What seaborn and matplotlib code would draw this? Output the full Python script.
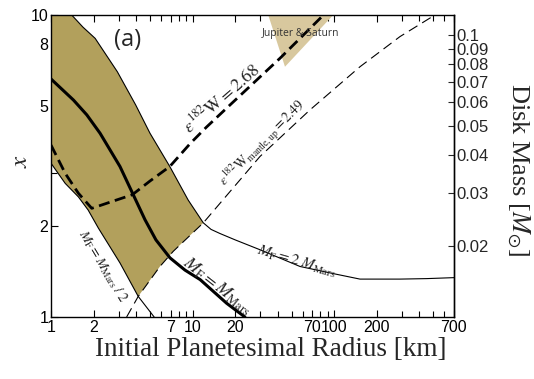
import numpy as np
import pandas as pd
import seaborn as sns
import matplotlib.pyplot as plt
from matplotlib.ticker import NullFormatter, NullLocator

# planetesimal radius [km] vs x
mf2_r = [1.40, 1.68, 2.05, 2.94, 3.96, 5.0, 6.9, 9.3, 11.9, 13.5, 15.6, 20.0, 29.9, 57.3, 100, 152, 291, 450, 700]
mf2_x = [10.0, 9.12, 8.37, 6.49, 5.04, 4.06, 3.15, 2.44, 2.05, 1.95, 1.89, 1.80, 1.67, 1.47, 1.39, 1.335, 1.335, 1.34, 1.35]

mf1_r = [1.0, 1.44, 1.79, 2.22, 3.07, 3.81, 4.61, 5.51, 6.92, 8.83, 11.3, 17.4, 23.4]
mf1_x = [6.14, 5.23, 4.67, 4.06, 3.15, 2.54, 2.10, 1.80, 1.57, 1.43, 1.33, 1.11, 1.0]

mfhalf_r = [1.0, 1.26, 1.56, 1.83, 2.16, 3.07, 4.13, 5.35]
mfhalf_x = [3.23, 2.77, 2.50, 2.26, 1.97, 1.51, 1.17, 1.0]

w268_r = [1.0, 1.26, 1.56, 1.94, 2.68, 3.75, 5.0, 6.9, 9.6, 12.5, 18.4, 41.4, 84]
w268_x = [3.71, 2.99, 2.57, 2.29, 2.41, 2.54, 2.82, 3.15, 3.75, 4.25, 5.04, 7.19, 10.0]

w249_r = [3.42, 4.13, 5.88, 7.3, 11.9, 29.9, 67.4, 152, 291, 514]
w249_x = [1.0, 1.17, 1.47, 1.65, 2.05, 3.40, 4.85, 6.74, 8.48, 10.0]

js_r = [34.2, 98.4, 44.9]
js_x = [10.0, 10.0, 6.74]

disk_ticks = [0.02, 0.03, 0.04, 0.05, 0.06, 0.07, 0.08, 0.09, 0.1]
disk_labels = ['0.02', '0.03', '0.04', '0.05', '0.06', '0.07', '0.08', '0.09', '0.1']
disk_per_x = 0.01165

x_major = [1, 2, 7, 10, 20, 70, 100, 200, 700]
x_minor = [3, 4, 5, 6, 8, 9, 30, 40, 50, 60, 80, 90, 300, 400, 500, 600]
y_major = [1, 2, 5, 8, 10]
y_minor = [3, 4, 6, 7, 9]

sns.set_style('ticks')
plt.rcParams['font.family'] = ['Liberation Serif', 'DejaVu Serif']
plt.rcParams['mathtext.fontset'] = 'stix'
sans = ['Liberation Sans', 'DejaVu Sans']

fig, ax = plt.subplots(figsize=(5.34, 3.79), dpi=100)
fig.subplots_adjust(left=0.0955, right=0.850, bottom=0.1636, top=0.9604)
ax.set_xscale('log')
ax.set_yscale('log')

# shaded allowed region: MF=2MMars edge, mantle dashed edge, MF=MMars/2 edge
i_end = mf2_r.index(11.9)
poly_r = [1.0] + mf2_r[:i_end + 1] + w249_r[1:4][::-1] + mfhalf_r[:7][::-1]
poly_x = [10.0] + mf2_x[:i_end + 1] + w249_x[1:4][::-1] + mfhalf_x[:7][::-1]
ax.fill(poly_r, poly_x, color='#b2a05c', lw=0, zorder=1)
ax.fill(js_r, js_x, color='#d8c89e', lw=0, zorder=1)

sns.lineplot(x=mf2_r, y=mf2_x, sort=False, estimator=None, color='black', lw=0.8, ax=ax)
sns.lineplot(x=mf1_r, y=mf1_x, sort=False, estimator=None, color='black', lw=2.2, ax=ax)
sns.lineplot(x=mfhalf_r, y=mfhalf_x, sort=False, estimator=None, color='black', lw=0.8, ax=ax)
sns.lineplot(x=w268_r, y=w268_x, sort=False, estimator=None, color='black', lw=2.0,
             linestyle=(0, (4, 2)), ax=ax)
sns.lineplot(x=w249_r, y=w249_x, sort=False, estimator=None, color='black', lw=0.8,
             linestyle=(0, (9, 5)), ax=ax)

ax.set_xlim(1, 700)
ax.set_ylim(1, 10)

ax.set_xticks(x_major, labels=[str(v) for v in x_major], fontfamily=sans, fontsize=11.5)
ax.set_xticks(x_minor, minor=True)
ax.set_yticks(y_major, labels=[str(v) for v in y_major], fontfamily=sans, fontsize=11.5)
ax.set_yticks(y_minor, minor=True)
ax.xaxis.set_minor_formatter(NullFormatter())
ax.yaxis.set_minor_formatter(NullFormatter())
ax.tick_params(which='both', direction='in', top=True, right=False, width=0.8, colors='black')
ax.tick_params(which='major', length=5, pad=2)
ax.tick_params(which='minor', length=4)
for s in ax.spines.values():
    s.set_linewidth(1.0)
    s.set_color('black')

sec = ax.secondary_yaxis('right', functions=(lambda v: v * disk_per_x, lambda v: v / disk_per_x))
sec.set_yticks(disk_ticks, labels=disk_labels, fontfamily=sans, fontsize=12)
sec.yaxis.set_minor_locator(NullLocator())
sec.tick_params(direction='in', length=4, pad=2, width=0.8)
sec.spines['right'].set_linewidth(1.0)
fig.text(0.970, 0.553, r'Disk Mass [$M_{\odot}$]', fontsize=19, rotation=270,
         ha='center', va='center')

ax.set_xlabel('Initial Planetesimal Radius [km]', fontsize=19.5, va='center')
ax.xaxis.set_label_coords(0.546, -0.106)
ax.set_ylabel(r'$x$', fontsize=18, rotation=90, ha='center', va='center')
ax.yaxis.set_label_coords(-0.075, 0.515)

ax.text(0.191, 0.917, '(a)', transform=ax.transAxes, fontsize=17,
        fontfamily=['Open Sans', 'DejaVu Sans'], ha='center', va='center')
ax.text(0.620, 0.940, 'Jupiter & Saturn', transform=ax.transAxes, fontsize=7.5,
        fontfamily=['Open Sans', 'DejaVu Sans'], color='#333333', ha='center', va='center')
ax.text(0.424, 0.725, r'$\varepsilon^{182}\mathrm{W} = 2.68$', transform=ax.transAxes,
        fontsize=13, rotation=41, ha='center', va='center')
ax.text(0.526, 0.576, r'$\varepsilon^{182}\mathrm{W}_{\mathrm{mantle,up}} = 2.49$', transform=ax.transAxes,
        fontsize=10, rotation=45, ha='center', va='center')
ax.text(0.610, 0.182, r'$M_{\rm F} = 2\ M_{\rm Mars}$', transform=ax.transAxes,
        fontsize=11, rotation=-16, ha='center', va='center')
ax.text(0.414, 0.103, r'$M_{\rm F} = M_{\rm Mars}$', transform=ax.transAxes,
        fontsize=13, rotation=-38, ha='center', va='center')
ax.text(0.129, 0.169, r'$M_{\rm F} = M_{\rm Mars}\ /\ 2$', transform=ax.transAxes,
        fontsize=10, rotation=-59, ha='center', va='center')

plt.savefig('out.png', dpi=100)
